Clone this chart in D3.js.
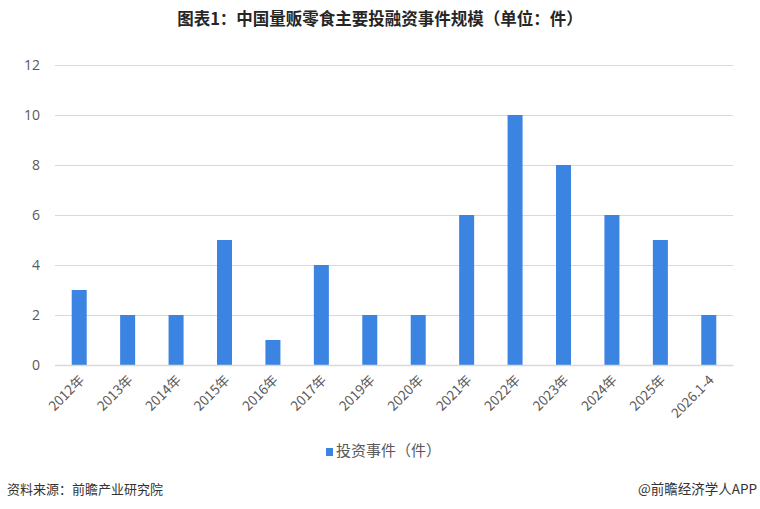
<!DOCTYPE html>
<html>
<head>
<meta charset="utf-8">
<script src="https://cdn.jsdelivr.net/npm/d3@7"></script>
<style>
  body { margin: 0; background: #fff; }
  text { font-family: "Noto Sans CJK SC", "Noto Sans", sans-serif; }
</style>
</head>
<body>
<div id="chart"></div>
<script>
// chart data
const categories = ["2012年", "2013年", "2014年", "2015年", "2016年", "2017年", "2019年",
  "2020年", "2021年", "2022年", "2023年", "2024年", "2025年", "2026.1-4"];
const events = [3, 2, 2, 5, 1, 4, 2, 2, 6, 10, 8, 6, 5, 2];
const yTicks = [0, 2, 4, 6, 8, 10, 12];

const width = 760, height = 509;
const margin = { top: 65, right: 27, bottom: 144, left: 55 };
const innerW = width - margin.left - margin.right,
      innerH = height - margin.top - margin.bottom;

const svg = d3.select("#chart").append("svg")
  .attr("width", width)
  .attr("height", height);

// title
svg.append("text")
  .attr("x", width / 2)
  .attr("y", 25)
  .attr("text-anchor", "middle")
  .style("font-size", "16.5px")
  .style("font-weight", "bold")
  .style("fill", "#262626")
  .text("图表1：中国量贩零食主要投融资事件规模（单位：件）");

const g = svg.append("g")
  .attr("transform", "translate(" + margin.left + "," + margin.top + ")");

let xScale = d3.scaleBand()
  .domain(categories)
  .range([0, innerW])
  .paddingInner(0.69)
  .paddingOuter(0.345);

let yScale = d3.scaleLinear()
  .domain([0, 12])
  .range([innerH, 0]);

// gridlines + y labels
let yAxis = g.append("g")
  .call(d3.axisLeft(yScale).tickValues(yTicks).tickSize(-innerW).tickPadding(15));
yAxis.select(".domain").remove();
yAxis.selectAll(".tick line").attr("stroke", "#d9d9d9").attr("stroke-width", 1);
yAxis.selectAll(".tick text")
  .style("font-size", "14px")
  .style("fill", "#595959")
  .style("font-family", "'Open Sans', 'Noto Sans', sans-serif");

// bars
g.append("g")
  .selectAll("rect")
  .data(events)
  .enter()
  .append("rect")
    .attr("x", function(d, i) { return xScale(categories[i]); })
    .attr("y", function(d) { return yScale(d); })
    .attr("width", xScale.bandwidth())
    .attr("height", function(d) { return innerH - yScale(d); })
    .style("fill", "#3b84e2");

// x axis
let xAxis = g.append("g")
  .attr("transform", "translate(0," + innerH + ")")
  .call(d3.axisBottom(xScale).tickSize(0).tickPadding(0));
xAxis.select(".domain").attr("stroke", "#d9d9d9").attr("stroke-width", 1.5);
xAxis.selectAll(".tick text")
  .attr("text-anchor", "end")
  .attr("dy", "0")
  .attr("transform", "translate(6,16) rotate(-45)")
  .style("font-size", "13.5px")
  .style("fill", "#595959");

// legend
const legend = svg.append("g").attr("transform", "translate(326,452)");
legend.append("rect")
  .attr("x", 0).attr("y", -4)
  .attr("width", 7).attr("height", 8)
  .style("fill", "#3b84e2");
legend.append("text")
  .attr("x", 10).attr("y", 0)
  .attr("dominant-baseline", "middle")
  .style("font-size", "15px")
  .style("fill", "#595959")
  .text("投资事件（件）");

// footer
svg.append("text")
  .attr("x", 7).attr("y", 494)
  .style("font-size", "13px")
  .style("fill", "#333")
  .text("资料来源：前瞻产业研究院");
svg.append("text")
  .attr("x", 757).attr("y", 494)
  .attr("text-anchor", "end")
  .style("font-size", "13.5px")
  .style("fill", "#333")
  .text("@前瞻经济学人APP");
</script>
</body>
</html>
